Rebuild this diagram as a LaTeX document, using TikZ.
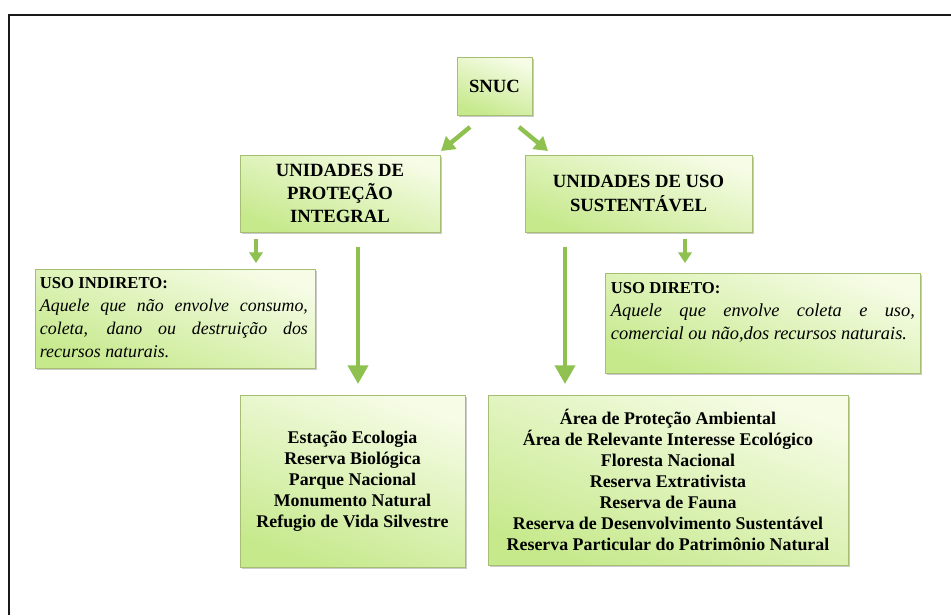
\documentclass[tikz,border=0pt]{standalone}
\usepackage{fontspec}
\setmainfont{Liberation Serif}
\usetikzlibrary{arrows.meta,shadows}
\definecolor{boxtop}{RGB}{246,252,230}
\definecolor{boxbot}{RGB}{198,233,140}
\definecolor{boxline}{RGB}{165,190,115}
\definecolor{arr}{RGB}{142,193,80}
\definecolor{framec}{RGB}{25,25,25}
\begin{document}
\begin{tikzpicture}[x=0.75pt,y=-0.75pt,
  gbox/.style={draw=boxline, line width=0.5pt, top color=boxtop, bottom color=boxbot, shading angle=-20,
    drop shadow={shadow xshift=1.2pt, shadow yshift=-1.6pt, fill=black!45, opacity=0.45},
    inner sep=0pt, align=center, text=black},
  titlefont/.style={font=\bfseries\fontsize{14}{17.4}\selectfont},
  listfont/.style={font=\bfseries\fontsize{13.4}{15.8}\selectfont},
  usetext/.style={align=justify, inner sep=0pt, anchor=north west, font=\fontsize{13.4}{17.2}\selectfont},
  bigarrow/.style={draw=arr, line width=3pt, -{Triangle[length=14pt,width=15pt]}},
  smallarrow/.style={draw=arr, line width=2.3pt, -{Triangle[length=8pt,width=10pt]}},
  diagarrow/.style={draw=arr, line width=3.3pt, -{Triangle[length=10pt,width=12pt]}}]
\useasboundingbox (0,0) rectangle (951,615);
\draw[framec, line width=1.6pt] (9,615) -- (9,15) -- (951,15);

\node[gbox, titlefont, minimum width=56.25pt, minimum height=43.5pt] (snuc) at (494.5,86) {SNUC};
\node[gbox, titlefont, minimum width=150pt, minimum height=57.75pt] (pi) at (340,193.5)
  {UNIDADES DE\\PROTEÇÃO\\INTEGRAL};
\node[gbox, titlefont, minimum width=170.25pt, minimum height=57.75pt] (us) at (638.5,193.5)
  {UNIDADES DE USO\\SUSTENTÁVEL};
\node[gbox, minimum width=210pt, minimum height=74.25pt] (ui) at (175,318.5) {};
\node[gbox, minimum width=236.25pt, minimum height=75pt] (ud) at (762.5,323) {};
\node[gbox, listfont, minimum width=168.75pt, minimum height=129pt] (l1) at (352.5,481)
  {Estação Ecologia\\Reserva Biológica\\Parque Nacional\\Monumento Natural\\Refugio de Vida Silvestre};
\node[gbox, listfont, minimum width=270pt, minimum height=127.5pt] (l2) at (668,480)
  {Área de Proteção Ambiental\\Área de Relevante Interesse Ecológico\\Floresta Nacional\\Reserva Extrativista\\Reserva de Fauna\\Reserva de Desenvolvimento Sustentável\\Reserva Particular do Patrimônio Natural};

\node[usetext, text width=201pt] (uitext) at ([shift={(5,9)}]ui.north west)
  {{\bfseries\fontsize{12.5}{17}\selectfont USO INDIRETO:}\\
   \itshape Aquele que não envolve consumo,\linebreak coleta, dano ou destruição dos\linebreak recursos naturais.};
\node[usetext, text width=228pt, font=\fontsize{13.8}{17.2}\selectfont] (udtext) at ([shift={(6,10)}]ud.north west)
  {\hyphenpenalty=10000 {\bfseries\fontsize{12.5}{17}\selectfont USO DIRETO:}\\
   \itshape Aquele que envolve coleta e uso,\linebreak \mbox{comercial ou não,dos recursos naturais.}};

\coordinate (s1) at (470,127);
\coordinate (t1) at (441,151);
\coordinate (s2) at (519,127);
\coordinate (t2) at (548,151);
\coordinate (s3) at (256,239);
\coordinate (t3) at (256,263);
\coordinate (s4) at (358,247);
\coordinate (t4) at (358,384);
\coordinate (s5) at (565,247);
\coordinate (t5) at (565,384);
\coordinate (s6) at (685,239);
\coordinate (t6) at (685,263);
\draw[diagarrow] (s1) -- (t1);
\draw[diagarrow] (s2) -- (t2);
\draw[smallarrow] (s3) -- (t3);
\draw[bigarrow] (s4) -- (t4);
\draw[bigarrow] (s5) -- (t5);
\draw[smallarrow] (s6) -- (t6);
\end{tikzpicture}
\end{document}
